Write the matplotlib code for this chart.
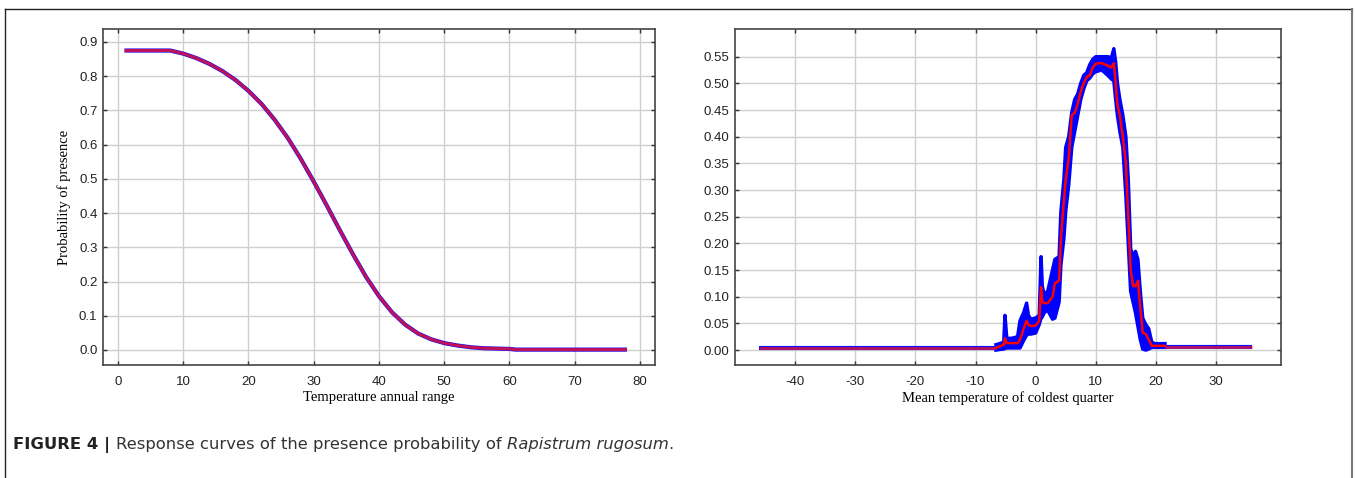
import numpy as np
import matplotlib
matplotlib.use("Agg")
import matplotlib.pyplot as plt
from matplotlib.lines import Line2D

# ---------------- datos ----------------
# panel izquierdo: Temperature annual range
rango_x = [1, 2, 4, 6, 8, 10, 12, 14, 16, 18, 20, 22, 24, 26, 28, 30, 32, 34,
           36, 38, 40, 42, 44, 46, 48, 50, 52, 54, 56, 58, 60, 61, 65, 70, 78]
rango_y = [0.875, 0.875, 0.875, 0.875, 0.875, 0.866, 0.853, 0.836, 0.815,
           0.789, 0.757, 0.719, 0.673, 0.620, 0.559, 0.492, 0.422, 0.350,
           0.280, 0.214, 0.157, 0.110, 0.074, 0.048, 0.031, 0.020, 0.013,
           0.008, 0.005, 0.004, 0.003, 0.001, 0.001, 0.001, 0.001]

# panel derecho: Mean temperature of coldest quarter
frio_x = [-6.6, -6.0, -5.3, -5.1, -4.8, -4.0, -3.0, -2.6, -2.0, -1.5, -1.2,
          -0.8, 0.0, 0.6, 0.9, 1.1, 1.4, 2.0, 2.8, 3.2, 3.9, 4.2, 4.7, 5.0,
          5.5, 6.0, 6.5, 7.0, 7.5, 8.0, 8.5, 9.0, 9.5, 10.0, 11.0, 12.0, 12.6,
          13.0, 13.3, 13.6, 14.0, 14.5, 15.0, 15.4, 15.8, 16.2, 16.6, 17.0,
          17.4, 17.8, 18.3, 18.8, 19.3, 19.8, 21.5]
frio_media = [0.004, 0.007, 0.010, 0.022, 0.013, 0.013, 0.013, 0.020, 0.040,
              0.055, 0.047, 0.045, 0.046, 0.055, 0.118, 0.090, 0.088, 0.088,
              0.100, 0.125, 0.130, 0.210, 0.280, 0.320, 0.360, 0.440, 0.445,
              0.462, 0.485, 0.500, 0.512, 0.515, 0.530, 0.537, 0.538, 0.533,
              0.530, 0.538, 0.500, 0.460, 0.440, 0.400, 0.350, 0.250, 0.150,
              0.120, 0.120, 0.130, 0.080, 0.033, 0.030, 0.020, 0.008, 0.008,
              0.008]
frio_sup = [0.010, 0.012, 0.015, 0.065, 0.022, 0.022, 0.025, 0.055, 0.070,
            0.088, 0.065, 0.058, 0.060, 0.065, 0.175, 0.120, 0.105, 0.110,
            0.150, 0.170, 0.175, 0.260, 0.320, 0.380, 0.400, 0.445, 0.470,
            0.480, 0.500, 0.515, 0.520, 0.535, 0.545, 0.550, 0.550, 0.550,
            0.548, 0.565, 0.540, 0.500, 0.470, 0.440, 0.400, 0.320, 0.190,
            0.175, 0.185, 0.170, 0.110, 0.060, 0.048, 0.040, 0.015, 0.012,
            0.012]
frio_inf = [0.000, 0.001, 0.002, 0.003, 0.004, 0.004, 0.004, 0.004, 0.018,
            0.028, 0.030, 0.030, 0.032, 0.048, 0.060, 0.062, 0.070, 0.075,
            0.058, 0.060, 0.090, 0.160, 0.210, 0.260, 0.310, 0.380, 0.410,
            0.440, 0.470, 0.490, 0.505, 0.510, 0.518, 0.522, 0.525, 0.515,
            0.508, 0.505, 0.470, 0.440, 0.410, 0.380, 0.290, 0.200, 0.110,
            0.090, 0.070, 0.045, 0.020, 0.002, 0.000, 0.002, 0.005, 0.005,
            0.005]
# tramos planos fuera del rango observado
plano_izq_x = [-46, -6.6]
plano_izq_y = [0.004, 0.004]
plano_der_x = [21.5, 36]
plano_der_y = [0.006, 0.006]

ticks_izq_x = [0, 10, 20, 30, 40, 50, 60, 70, 80]
ticks_izq_y = [0.0, 0.1, 0.2, 0.3, 0.4, 0.5, 0.6, 0.7, 0.8, 0.9]
ticks_der_x = [-40, -30, -20, -10, 0, 10, 20, 30]
ticks_der_y = [0.00, 0.05, 0.10, 0.15, 0.20, 0.25, 0.30, 0.35, 0.40, 0.45,
               0.50, 0.55]

fuente_ticks = ['Liberation Sans', 'DejaVu Sans']
fuente_etiq = ['Liberation Serif', 'DejaVu Serif']
fuente_pie = ['DejaVu Sans']


def estilo_ejes(ax, xt, yt, fmt):
    ax.set_xticks(xt)
    ax.set_yticks(yt)
    ax.set_xticklabels([str(v) for v in xt], family=fuente_ticks, fontsize=9.5,
                       color='#222222')
    ax.set_yticklabels([fmt.format(v) for v in yt], family=fuente_ticks,
                       fontsize=9.5, color='#222222')
    ax.tick_params(direction='in', top=True, right=True, length=3,
                   width=1, color='#333333', pad=4)
    ax.tick_params(axis='x', pad=8)
    ax.grid(True, color='#cfcfcf', lw=1)
    ax.set_axisbelow(True)
    for s in ax.spines.values():
        s.set_color('#444444')
        s.set_linewidth(1.2)


fig = plt.figure(figsize=(13.55, 4.78), dpi=100)

# marco exterior
fig.add_artist(Line2D([0.0037, 0.0037], [-0.1, 0.981], color='#222222', lw=1))
fig.add_artist(Line2D([0.0037, 0.9978], [0.981, 0.981], color='#222222', lw=1))
fig.add_artist(Line2D([0.9978, 0.9978], [-0.1, 0.981], color='#777777', lw=1.5))

# panel izquierdo
ax1 = fig.add_axes([0.076, 0.2364, 0.4074, 0.703])
ax1.plot(rango_x, rango_y, color='#1010ff', lw=3.0, solid_capstyle='butt')
ax1.plot(rango_x, rango_y, color='#e0103a', lw=2.2, alpha=0.85,
         solid_capstyle='butt')
ax1.set_xlim(-2.3, 82.3)
ax1.set_ylim(-0.044, 0.938)
estilo_ejes(ax1, ticks_izq_x, ticks_izq_y, '{:.1f}')
ax1.set_xlabel('Temperature annual range', family=fuente_etiq, fontsize=10.5,
               labelpad=2)
ax1.set_ylabel('Probability of presence', family=fuente_etiq, fontsize=10.5,
               labelpad=6)

# panel derecho
ax2 = fig.add_axes([0.5424, 0.2364, 0.403, 0.703])
ax2.fill_between(frio_x, frio_inf, frio_sup, color='#0000ff', lw=0)
ax2.plot(frio_x, frio_sup, color='#0000ff', lw=2.5)
ax2.plot(frio_x, frio_inf, color='#0000ff', lw=2.5)
for px, py in [(plano_izq_x, plano_izq_y), (plano_der_x, plano_der_y)]:
    ax2.plot(px, py, color='#1010ff', lw=3, solid_capstyle='butt')
    ax2.plot(px, py, color='#e0103a', lw=2, alpha=0.8, solid_capstyle='butt')
ax2.plot(frio_x, frio_media, color='#ff0000', lw=1.8)
ax2.set_xlim(-50, 40.8)
ax2.set_ylim(-0.028, 0.602)
estilo_ejes(ax2, ticks_der_x, ticks_der_y, '{:.2f}')
ax2.set_xlabel('Mean temperature of coldest quarter', family=fuente_etiq,
               fontsize=10.5, labelpad=2)

# pie de figura
renderer = fig.canvas.get_renderer()
y_pie = 0.06
tam_pie = 11.8
t0 = fig.text(0.0096, y_pie, 'FIGURE 4 | ', fontsize=tam_pie, family=fuente_pie,
              weight='bold', va='baseline', color='#222222')
x_sig = t0.get_window_extent(renderer).x1 / fig.bbox.width
t1 = fig.text(x_sig, y_pie, 'Response curves of the presence probability of ',
              fontsize=tam_pie, family=fuente_pie, va='baseline',
              color='#333333')
x_sig = t1.get_window_extent(renderer).x1 / fig.bbox.width
t2 = fig.text(x_sig, y_pie, 'Rapistrum rugosum', fontsize=tam_pie,
              family=fuente_pie, style='italic', va='baseline',
              color='#333333')
x_sig = t2.get_window_extent(renderer).x1 / fig.bbox.width
fig.text(x_sig, y_pie, '.', fontsize=tam_pie, family=fuente_pie, va='baseline',
         color='#333333')

fig.savefig('out.png', dpi=100)
